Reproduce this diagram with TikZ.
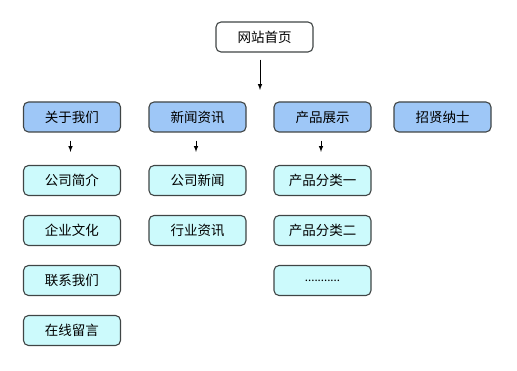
\documentclass[tikz,border=0pt]{standalone}
\usepackage{fontspec}
\newfontfamily\cjk{Noto Sans CJK SC}
\usetikzlibrary{arrows,calc}
\definecolor{TopClr}{rgb}{0.62,0.78,0.97}
\definecolor{SubClr}{rgb}{0.80,0.98,0.99}
\definecolor{EdgeClr}{rgb}{0.25,0.27,0.27}

\tikzset{
  box/.style={draw=EdgeClr,line width=1.1pt,rounded corners=5pt,
    minimum width=97pt,minimum height=30pt,inner sep=0pt,
    font=\cjk\fontsize{13.5}{15}\selectfont},
  homebox/.style={box,fill=white},
  menubox/.style={box,fill=TopClr},
  subbox/.style={box,fill=SubClr},
  arr/.style={-latex,line width=1pt,black}
}

\begin{document}
\begin{tikzpicture}[x=1pt,y=-1pt]
\useasboundingbox (0,0) rectangle (517,371);

\node[homebox] (home) at (264.5,37) {网站首页};
\coordinate (hub) at (260,90);

% top menu
\node[menubox] (about) at (72,117) {关于我们};
\node[menubox] (news) at (197.5,117) {新闻资讯};
\node[menubox] (prod) at (322.5,117) {产品展示};
\node[menubox] (jobs) at (442.5,117) {招贤纳士};

% sub pages
\node[subbox] (intro) at (72,180.5) {公司简介};
\node[subbox] (culture) at (72,230.5) {企业文化};
\node[subbox] (contact) at (72,280.5) {联系我们};
\node[subbox] (msg) at (72,330.5) {在线留言};

\node[subbox] (cnews) at (197.5,180.5) {公司新闻};
\node[subbox] (inews) at (197.5,230.5) {行业资讯};

\node[subbox] (cat1) at (322.5,180.5) {产品分类一};
\node[subbox] (cat2) at (322.5,230.5) {产品分类二};
\node[subbox] (more) at (322.5,280.5) {\fontsize{11.5}{12}\selectfont ...........};

\draw[arr,shorten <=7pt] (home.south -| hub) -- (hub);
\draw[arr,shorten <=8pt,shorten >=13pt] ([xshift=-1.5pt]about.south) -- ([xshift=-1.5pt]intro.north);
\draw[arr,shorten <=8pt,shorten >=13pt] ([xshift=-1.5pt]news.south) -- ([xshift=-1.5pt]cnews.north);
\draw[arr,shorten <=8pt,shorten >=13pt] ([xshift=-1.5pt]prod.south) -- ([xshift=-1.5pt]cat1.north);

\end{tikzpicture}
\end{document}
